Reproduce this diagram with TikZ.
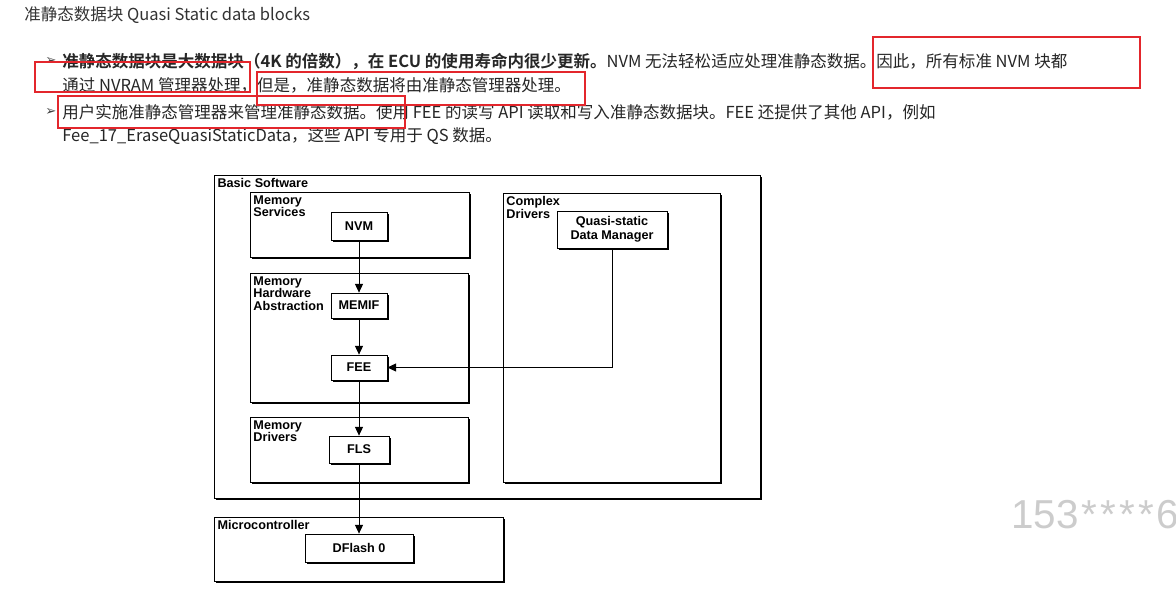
\documentclass[tikz,border=0pt]{standalone}
\usepackage{fontspec}
\setmainfont{Noto Sans CJK SC}[BoldFont={Noto Sans CJK SC Bold}]
\newfontfamily\diagfont{Liberation Sans}
\newfontfamily\symfont{DejaVu Sans}
\usetikzlibrary{arrows.meta,positioning,shadows,calc}

\definecolor{markred}{HTML}{E3262C}
\definecolor{bodytext}{HTML}{262626}

\begin{document}
\begin{tikzpicture}[x=0.02cm,y=-0.02cm,
  txt/.style={anchor=west,inner sep=0pt,font=\fontsize{9.4}{11}\selectfont,text=bodytext},
  bul/.style={anchor=west,inner sep=0pt,font=\symfont\fontsize{7.5}{8}\selectfont,text=black!75},
  blk/.style={draw,line width=0.45pt,fill=white,inner sep=0pt,align=center,
    drop shadow={shadow xshift=1.1pt,shadow yshift=-1.1pt,fill=black,opacity=1},
    font=\diagfont\bfseries\fontsize{7.2}{7.8}\selectfont},
  lbl/.style={anchor=north west,inner sep=2pt,align=left,
    font=\diagfont\bfseries\fontsize{7.2}{7.2}\selectfont},
  arr/.style={-{Triangle[width=4.6pt,length=5pt]},line width=0.45pt},
  redbox/.style={draw=markred,line width=1.1pt}
]
\fill[white] (0,0) rectangle (1176,607);
\useasboundingbox (0,0) rectangle (1176,607);

% heading and notes
\node[txt,text=black!80] (title) at (24,15) {准静态数据块 Quasi Static data blocks};
\node[bul] (b1) at (45,61) {➢};
\node[txt] (l1) at (62,61) {{\bfseries 准静态数据块是大数据块（4K 的倍数），在 ECU 的使用寿命内很少更新。}NVM 无法轻松适应处理准静态数据。因此，所有标准 NVM 块都};
\node[txt] (l2) at (62,85) {通过 NVRAM 管理器处理，但是，准静态数据将由准静态管理器处理。};
\node[bul] (b2) at (45,112) {➢};
\node[txt] (l3) at (62,112) {用户实施准静态管理器来管理准静态数据。使用 FEE 的读写 API 读取和写入准静态数据块。FEE 还提供了其他 API，例如};
\node[txt] (l4) at (62,136) {Fee\_17\_EraseQuasiStaticData，这些 API 专用于 QS 数据。};

% containers
\node[blk,minimum width=10.92cm,minimum height=6.46cm] (bsw) at (487,336.5) {};
\node[blk,minimum width=4.38cm,minimum height=1.30cm] (msrv) at (359.5,224.5) {};
\node[blk,minimum width=4.36cm,minimum height=2.58cm] (mhwa) at (359,337.5) {};
\node[blk,minimum width=4.36cm,minimum height=1.30cm] (mdrv) at (359,449.5) {};
\node[blk,minimum width=4.34cm,minimum height=5.78cm] (cdrv) at (611.5,337.5) {};
\node[blk,minimum width=5.78cm,minimum height=1.28cm] (mcu) at (358.5,549) {};

\node[lbl] (bswlbl) at (bsw.north west) {Basic Software};
\node[lbl] (msrvlbl) at (msrv.north west) {Memory\\Services};
\node[lbl] (mhwalbl) at (mhwa.north west) {Memory\\Hardware\\Abstraction};
\node[lbl] (mdrvlbl) at (mdrv.north west) {Memory\\Drivers};
\node[lbl] (cdrvlbl) at (cdrv.north west) {Complex\\Drivers};
\node[lbl] (mculbl) at (mcu.north west) {Microcontroller};

% modules
\node[blk,minimum width=1.12cm,minimum height=0.56cm] (nvm) at (359,226) {NVM};
\node[blk,minimum width=1.12cm,minimum height=0.50cm] (memif) at (359,305.5) {MEMIF};
\node[blk,minimum width=1.12cm,minimum height=0.50cm] (fee) at (359,367.5) {FEE};
\node[blk,minimum width=1.20cm,minimum height=0.54cm] (fls) at (359,449.5) {FLS};
\node[blk,minimum width=2.20cm,minimum height=0.74cm] (qsdm) at (612,229.5) {Quasi-static\\Data Manager};
\node[blk,minimum width=2.16cm,minimum height=0.56cm] (dflash) at (359,548) {DFlash 0};

\draw[arr] (nvm) -- (memif);
\draw[arr] (memif) -- (fee);
\draw[arr] (fee) -- (fls);
\draw[arr] (fls) -- (dflash);
\draw[arr] (qsdm.south) |- (fee.east);

% red marks
\draw[redbox] (35,62) rectangle (250,92);
\draw[redbox] (257,72) rectangle (585,105);
\draw[redbox] (58,96) rectangle (405,128);
\draw[redbox] (873,37) rectangle (1140,88);

\node[anchor=west,inner sep=0pt,font=\diagfont\fontsize{23}{26}\selectfont,text=black!20] (wmark) at (1011,515) {153\kern1.5pt*\kern1.8pt*\kern1.8pt*\kern1.8pt*\kern1.5pt6};
\end{tikzpicture}
\end{document}
